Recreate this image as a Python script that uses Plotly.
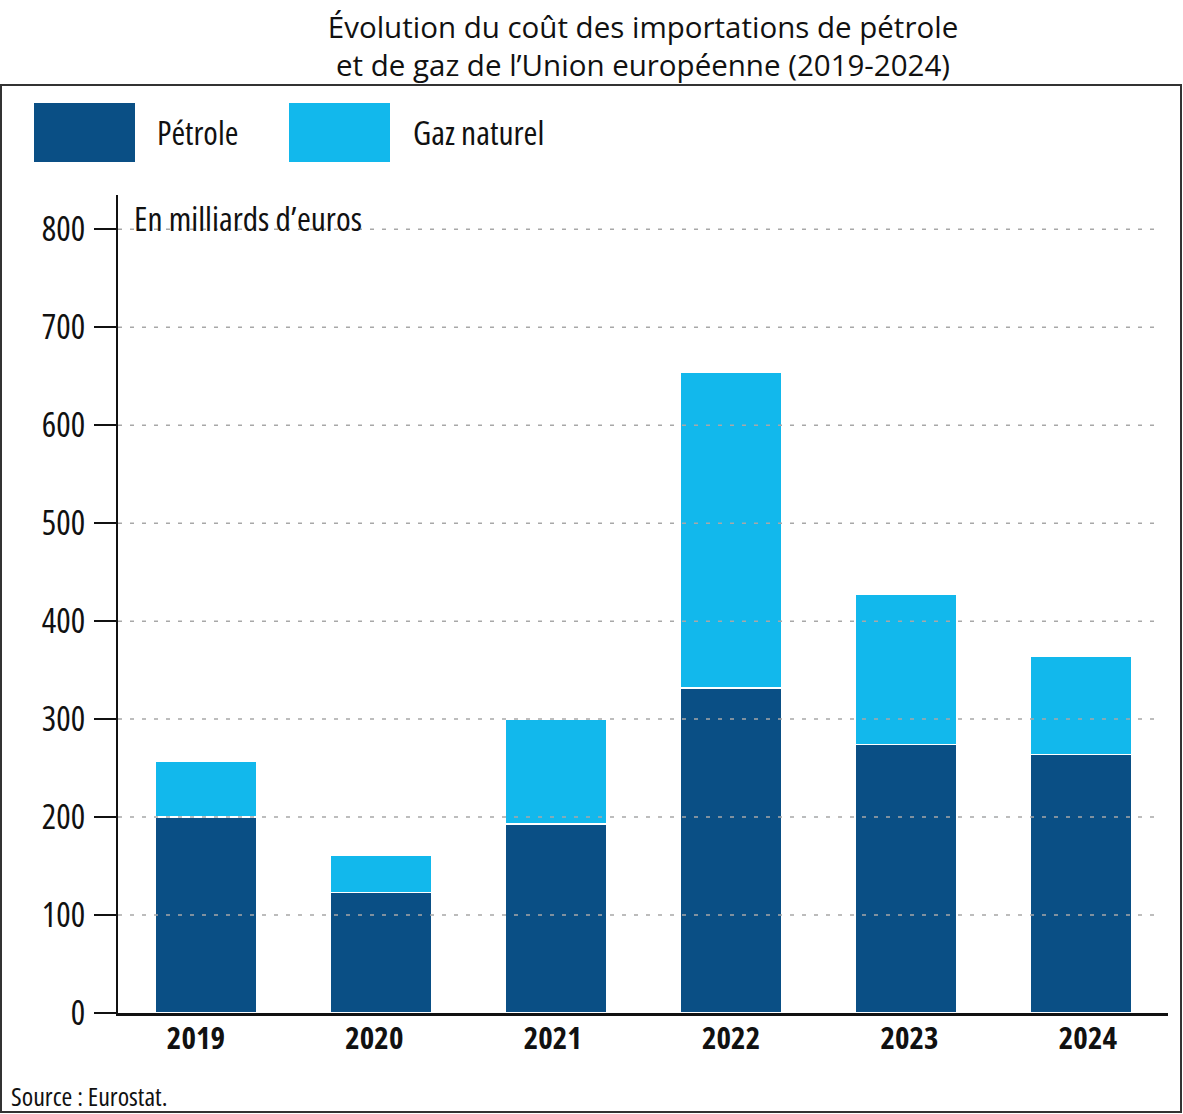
import plotly.graph_objects as go

years = ["2019", "2020", "2021", "2022", "2023", "2024"]
petrole = [200, 123, 193, 332, 274, 264]
gaz = [57, 38, 107, 322, 153, 100]
y_ticks = [0, 100, 200, 300, 400, 500, 600, 700, 800]

C_PET = "#0A4F85"
C_GAZ = "#12B8EC"
FONT = "Open Sans, sans-serif"
TITLE_FONT = "Open Sans, Lato, sans-serif"
INK = "#111111"

W, H = 1183, 1114
L, R, T, B = 118, 15, 195, 101
PW, PH = W - L - R, H - T - B


def px(x):
    return (x - L) / PW


def py(y):
    return (H - B - y) / PH


idx = list(range(len(years)))

fig = go.Figure()
fig.add_trace(go.Bar(x=years, y=petrole, name="Pétrole", width=0.58,
                     marker=dict(color=C_PET, line=dict(color="white", width=1.5))))
fig.add_trace(go.Bar(x=years, y=gaz, name="Gaz naturel", width=0.58,
                     marker=dict(color=C_GAZ, line=dict(color="white", width=1.5))))
# invisible carrier for the label axis
fig.add_trace(go.Scatter(x=idx, y=[0] * len(idx), xaxis="x2", mode="markers",
                         marker=dict(opacity=0), hoverinfo="skip", showlegend=False))

shapes = []
for v in y_ticks[1:]:
    shapes.append(dict(type="line", xref="paper", yref="y", x0=0, x1=px(1162), y0=v, y1=v,
                       line=dict(color="#A8A8A8", width=1.5, dash="4px,8px"), layer="above"))
shapes.append(dict(type="rect", xref="paper", yref="paper", x0=px(1), x1=px(1181), y0=py(1112), y1=py(85),
                   line=dict(color="#333333", width=2), layer="below"))
shapes.append(dict(type="rect", xref="paper", yref="paper", x0=px(34), x1=px(135), y0=py(162), y1=py(103),
                   fillcolor=C_PET, line=dict(width=0)))
shapes.append(dict(type="rect", xref="paper", yref="paper", x0=px(289), x1=px(390), y0=py(162), y1=py(103),
                   fillcolor=C_GAZ, line=dict(width=0)))

annotations = [
    dict(text="Pétrole", xref="paper", yref="paper", x=px(155), y=py(132), xanchor="left", yanchor="middle",
         showarrow=False, font=dict(family=FONT, size=33, color=INK)),
    dict(text="Gaz naturel", xref="paper", yref="paper", x=px(411), y=py(132), xanchor="left", yanchor="middle",
         showarrow=False, font=dict(family=FONT, size=33.5, color=INK)),
    dict(text="En milliards d’euros", xref="paper", yref="paper", x=px(132), y=py(218), xanchor="left", yanchor="middle",
         showarrow=False, font=dict(family=FONT, size=33.5, color=INK)),
    dict(text="Source : Eurostat.", xref="paper", yref="paper", x=px(9), y=py(1096), xanchor="left", yanchor="middle",
         showarrow=False, font=dict(family=FONT, size=26, color=INK)),
]

fig.update_layout(
    width=W, height=H,
    margin=dict(l=L, r=R, t=T, b=B),
    paper_bgcolor="white", plot_bgcolor="white",
    barmode="stack",
    showlegend=False,
    title=dict(text="Évolution du coût des importations de pétrole<br>et de gaz de l’Union européenne (2019-2024)",
               x=0.5, xanchor="center", xref="paper", y=1 - 38 / H, yref="container", yanchor="middle",
               font=dict(family=TITLE_FONT, size=29.5, color=INK)),
    shapes=shapes,
    annotations=annotations,
    xaxis=dict(range=[-0.5, 5.5], showline=True, linecolor=INK, linewidth=2.5, ticks="",
               showticklabels=False, showgrid=False, zeroline=False),
    xaxis2=dict(overlaying="x", anchor="y", side="bottom", range=[-0.437, 5.449], tickvals=idx, ticktext=years,
                showline=False, ticks="", showgrid=False, zeroline=False,
                tickfont=dict(family=FONT, size=31, color=INK, weight="bold"), ticklabelstandoff=4),
    yaxis=dict(range=[0, 835], tickvals=y_ticks, showline=True, linecolor=INK, linewidth=2,
               ticks="outside", ticklen=22, tickwidth=2, tickcolor=INK, showgrid=False, zeroline=False,
               tickfont=dict(family=FONT, size=34, color=INK), ticklabelstandoff=2),
)

js = """
document.body.style.margin = '0';
var st = document.createElement('style');
st.textContent = 'text { font-stretch: 75%; } text[style*="Lato"] { font-stretch: 100%; }';
document.head.appendChild(st);
var gd = document.getElementById('{plot_id}');
var lay = JSON.parse(JSON.stringify(gd.layout).split('sans-serif').join('Liberation Sans, sans-serif'));
Plotly.react(gd, gd.data, lay, {displayModeBar: false});
"""
fig.write_html("out.html", post_script=js, config={"displayModeBar": False})
